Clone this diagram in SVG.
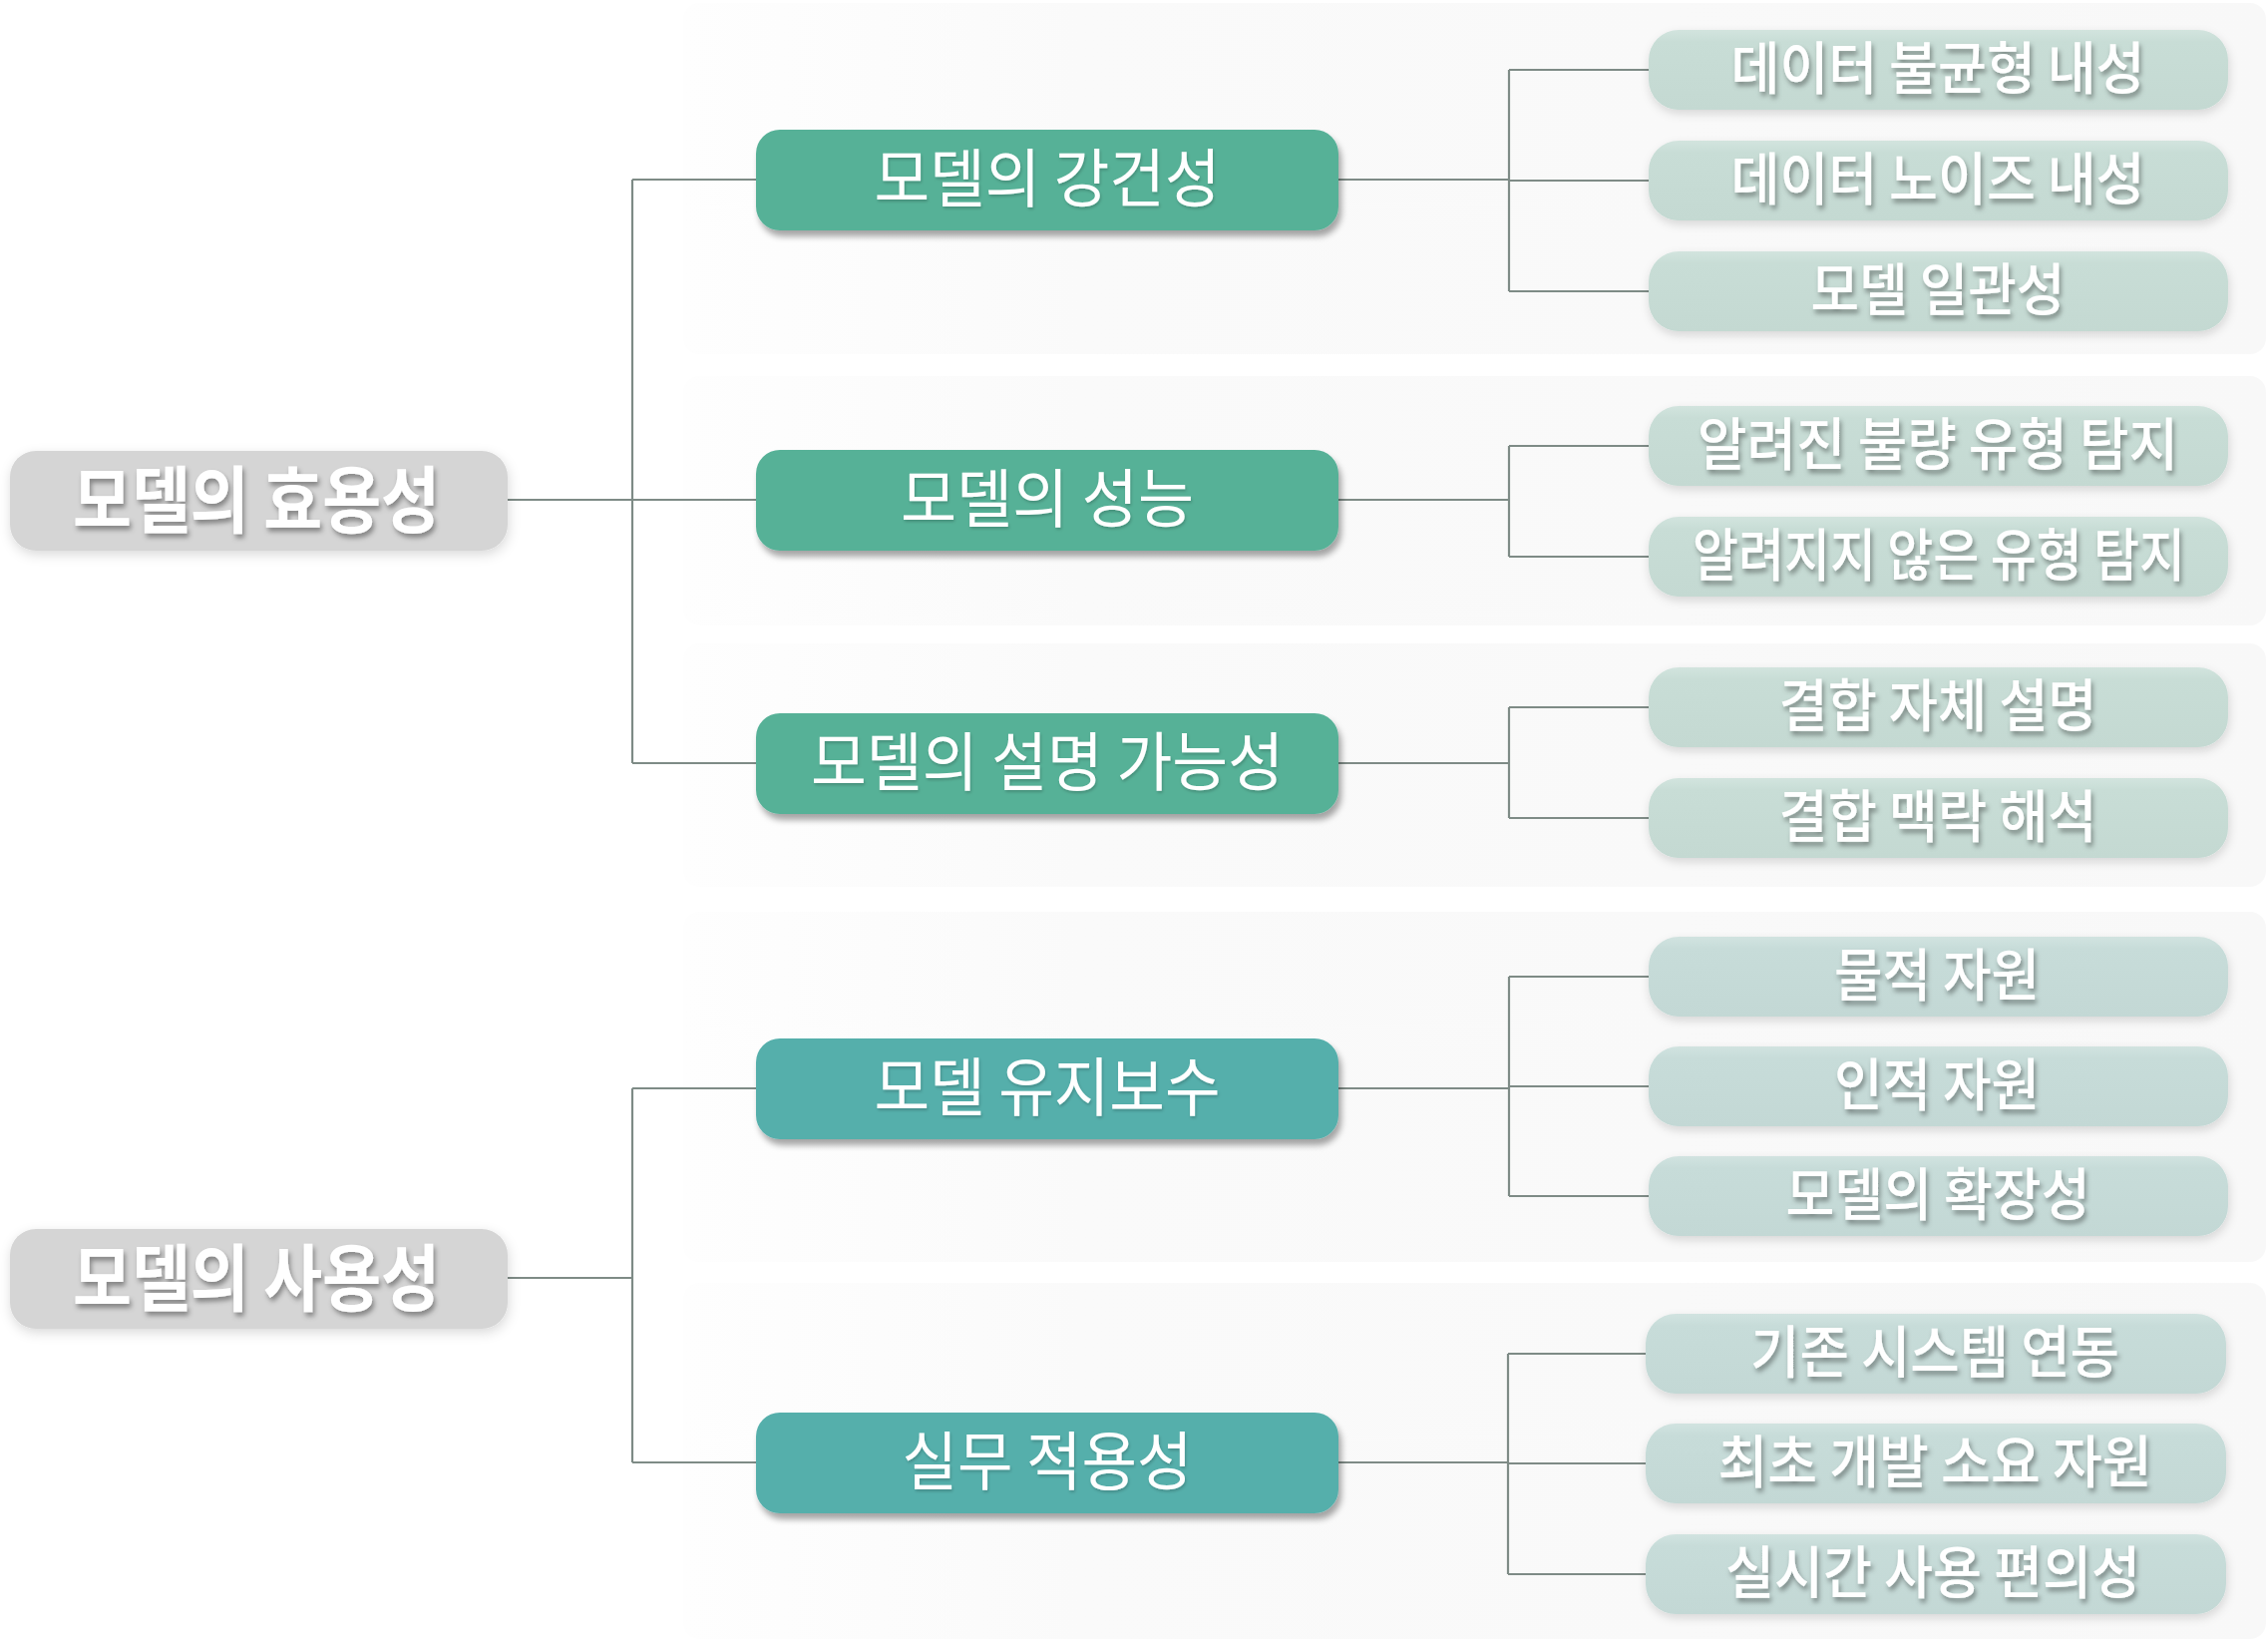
<svg xmlns="http://www.w3.org/2000/svg" width="2274" height="1648" viewBox="0 0 2274 1648">
<defs>
<style>
text{font-family:"Noto Sans CJK KR","Noto Sans",sans-serif;fill:#ffffff;text-anchor:middle;dominant-baseline:central}
.root rect{fill:#d5d5d5}
.root text{font-size:73px;font-weight:700;filter:url(#ts)}
.mid rect{filter:url(#ms)}
.mid text{font-size:64px;font-weight:400;filter:url(#tsl)}
.g1{fill:#56b197}
.g2{fill:#54afab}
.leaf rect{fill:url(#lg);filter:url(#ls)}
.leaf2 rect{fill:url(#lg2);filter:url(#ls)}
.leaf text,.leaf2 text{font-size:57px;font-weight:500;filter:url(#ts)}
.panel{fill:url(#pg)}
.conn path{fill:none;stroke:#7e8b86;stroke-width:2.2}
</style>
<linearGradient id="pg" x1="0" y1="0" x2="1" y2="0">
<stop offset="0" stop-color="#fefefe"/>
<stop offset="0.25" stop-color="#fafafa"/>
<stop offset="1" stop-color="#f8f8f8"/>
</linearGradient>
<linearGradient id="lg" x1="0" y1="0" x2="0" y2="1">
<stop offset="0" stop-color="#d2e4de"/>
<stop offset="0.15" stop-color="#c8ddd6"/>
<stop offset="1" stop-color="#c4d9d2"/>
</linearGradient>
<linearGradient id="lg2" x1="0" y1="0" x2="0" y2="1">
<stop offset="0" stop-color="#d1e3e0"/>
<stop offset="0.15" stop-color="#c7dcd9"/>
<stop offset="1" stop-color="#c3d8d5"/>
</linearGradient>
<filter id="ms" x="-10%" y="-20%" width="120%" height="150%">
<feDropShadow dx="3" dy="6" stdDeviation="3" flood-color="#000" flood-opacity="0.35"/>
</filter>
<filter id="ls" x="-10%" y="-20%" width="120%" height="150%">
<feDropShadow dx="1" dy="4" stdDeviation="5" flood-color="#000" flood-opacity="0.14"/>
</filter>
<filter id="rs" x="-10%" y="-20%" width="120%" height="150%">
<feDropShadow dx="1" dy="4" stdDeviation="6" flood-color="#000" flood-opacity="0.15"/>
</filter>
<filter id="ts" x="-10%" y="-30%" width="120%" height="160%">
<feDropShadow dx="2" dy="4" stdDeviation="2.5" flood-color="#000" flood-opacity="0.38"/>
</filter>
<filter id="tsl" x="-10%" y="-30%" width="120%" height="160%">
<feDropShadow dx="1" dy="2" stdDeviation="1.5" flood-color="#000" flood-opacity="0.2"/>
</filter>
</defs>
<rect width="2274" height="1648" fill="#ffffff"/>
<g id="panels">
<rect class="panel" x="685" y="3" width="1587" height="352" rx="16"/>
<rect class="panel" x="685" y="377" width="1587" height="250" rx="16"/>
<rect class="panel" x="685" y="645" width="1587" height="244" rx="16"/>
<rect class="panel" x="685" y="914" width="1587" height="351" rx="16"/>
<rect class="panel" x="685" y="1286" width="1587" height="357" rx="16"/>
</g>
<g id="connectors" class="conn">
<path d="M509 501 H634 M634 180 V765 M634 180 H758 M634 501 H758 M634 765 H758"/>
<path d="M509 1281 H634 M634 1091 V1466 M634 1091 H758 M634 1466 H758"/>
<path d="M1342 180 H1513 M1513 70 V292 M1513 70 H1653 M1513 181 H1653 M1513 292 H1653"/>
<path d="M1342 501 H1513 M1513 447 V558 M1513 447 H1653 M1513 558 H1653"/>
<path d="M1342 765 H1513 M1513 709 V820 M1513 709 H1653 M1513 820 H1653"/>
<path d="M1342 1091 H1513 M1513 979 V1199 M1513 979 H1653 M1513 1089 H1653 M1513 1199 H1653"/>
<path d="M1342 1466 H1512 M1512 1357 V1578 M1512 1357 H1650 M1512 1467 H1650 M1512 1578 H1650"/>
</g>
<g id="root-efficacy" class="root"><rect x="10" y="452" width="499" height="100" rx="26" filter="url(#rs)"/><text x="257" y="496" textLength="368" lengthAdjust="spacingAndGlyphs">모델의 효용성</text></g>
<g id="root-usability" class="root"><rect x="10" y="1232" width="499" height="100" rx="26" filter="url(#rs)"/><text x="257" y="1276" textLength="368" lengthAdjust="spacingAndGlyphs">모델의 사용성</text></g>
<g id="mid-robustness" class="mid"><rect class="g1" x="758" y="130" width="584" height="101" rx="24"/><text x="1050" y="174" textLength="347" lengthAdjust="spacingAndGlyphs">모델의 강건성</text></g>
<g id="mid-performance" class="mid"><rect class="g1" x="758" y="451" width="584" height="101" rx="24"/><text x="1050" y="495" textLength="294" lengthAdjust="spacingAndGlyphs">모델의 성능</text></g>
<g id="mid-explainability" class="mid"><rect class="g1" x="758" y="715" width="584" height="101" rx="24"/><text x="1050" y="759" textLength="474" lengthAdjust="spacingAndGlyphs">모델의 설명 가능성</text></g>
<g id="mid-maintenance" class="mid"><rect class="g2" x="758" y="1041" width="584" height="101" rx="24"/><text x="1050" y="1085" textLength="347" lengthAdjust="spacingAndGlyphs">모델 유지보수</text></g>
<g id="mid-practical" class="mid"><rect class="g2" x="758" y="1416" width="584" height="101" rx="24"/><text x="1050" y="1460" textLength="291" lengthAdjust="spacingAndGlyphs">실무 적용성</text></g>
<g id="leaf-imbalance" class="leaf"><rect x="1653" y="30" width="581" height="80" rx="30"/><text x="1943" y="64" textLength="415" lengthAdjust="spacingAndGlyphs">데이터 불균형 내성</text></g>
<g id="leaf-noise" class="leaf"><rect x="1653" y="141" width="581" height="80" rx="30"/><text x="1943" y="175" textLength="415" lengthAdjust="spacingAndGlyphs">데이터 노이즈 내성</text></g>
<g id="leaf-consistency" class="leaf"><rect x="1653" y="252" width="581" height="80" rx="30"/><text x="1943" y="286" textLength="255" lengthAdjust="spacingAndGlyphs">모델 일관성</text></g>
<g id="leaf-known" class="leaf"><rect x="1653" y="407" width="581" height="80" rx="30"/><text x="1943" y="441" textLength="482" lengthAdjust="spacingAndGlyphs">알려진 불량 유형 탐지</text></g>
<g id="leaf-unknown" class="leaf"><rect x="1653" y="518" width="581" height="80" rx="30"/><text x="1944" y="552" textLength="494" lengthAdjust="spacingAndGlyphs">알려지지 않은 유형 탐지</text></g>
<g id="leaf-self" class="leaf"><rect x="1653" y="669" width="581" height="80" rx="30"/><text x="1943" y="703" textLength="319" lengthAdjust="spacingAndGlyphs">결합 자체 설명</text></g>
<g id="leaf-context" class="leaf"><rect x="1653" y="780" width="581" height="80" rx="30"/><text x="1943" y="814" textLength="319" lengthAdjust="spacingAndGlyphs">결합 맥락 해석</text></g>
<g id="leaf-material" class="leaf2"><rect x="1653" y="939" width="581" height="80" rx="30"/><text x="1942" y="973" textLength="206" lengthAdjust="spacingAndGlyphs">물적 자원</text></g>
<g id="leaf-human" class="leaf2"><rect x="1653" y="1049" width="581" height="80" rx="30"/><text x="1942" y="1083" textLength="206" lengthAdjust="spacingAndGlyphs">인적 자원</text></g>
<g id="leaf-scalability" class="leaf2"><rect x="1653" y="1159" width="581" height="80" rx="30"/><text x="1943" y="1193" textLength="305" lengthAdjust="spacingAndGlyphs">모델의 확장성</text></g>
<g id="leaf-integration" class="leaf2"><rect x="1650" y="1317" width="582" height="80" rx="30"/><text x="1940" y="1351" textLength="370" lengthAdjust="spacingAndGlyphs">기존 시스템 연동</text></g>
<g id="leaf-initial" class="leaf2"><rect x="1650" y="1427" width="582" height="80" rx="30"/><text x="1940" y="1461" textLength="435" lengthAdjust="spacingAndGlyphs">최초 개발 소요 자원</text></g>
<g id="leaf-realtime" class="leaf2"><rect x="1650" y="1538" width="582" height="80" rx="30"/><text x="1938" y="1572" textLength="416" lengthAdjust="spacingAndGlyphs">실시간 사용 편의성</text></g>
</svg>
